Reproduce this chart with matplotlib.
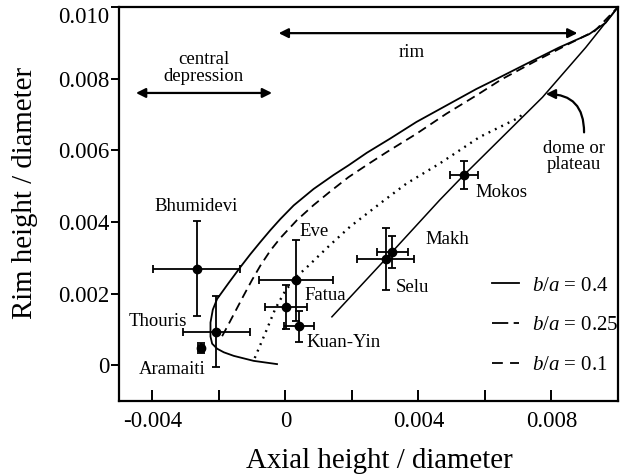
import matplotlib
matplotlib.use("Agg")
import matplotlib.pyplot as plt
from matplotlib.lines import Line2D
import numpy as np

plt.rcParams['font.family'] = ['Liberation Serif', 'DejaVu Serif']
plt.rcParams['mathtext.fontset'] = 'custom'
plt.rcParams['mathtext.it'] = 'Liberation Serif:italic'
plt.rcParams['mathtext.rm'] = 'Liberation Serif'

S = 1e-3
# ---- observed craters ----
names = ['Bhumidevi', 'Thouris', 'Aramaiti', 'Fatua', 'Eve', 'Kuan-Yin', 'Selu', 'Makh', 'Mokos']
axial = [-2.66, -2.07, -2.54, 0.02, 0.32, 0.40, 3.02, 3.22, 5.37]
rim = [2.69, 0.94, 0.47, 1.62, 2.37, 1.08, 2.97, 3.16, 5.31]
axial_err = [1.31, 1.00, 0.10, 0.64, 1.10, 0.45, 0.86, 0.47, 0.42]
rim_err = [1.33, 1.00, 0.14, 0.61, 1.13, 0.42, 0.86, 0.45, 0.39]
label_x = [-2.69, -3.84, -3.39, 1.19, 0.85, 1.75, 3.82, 4.86, 6.51]
label_y = [4.42, 1.23, -0.11, 1.94, 3.73, 0.63, 2.16, 3.52, 4.81]

# ---- model curves ----
c04_x = [-0.25, -0.95, -1.55, -1.85, -2.05, -2.20, -2.25, -2.25, -2.18, -2.05, -1.70, -1.35,
         -1.05, -0.75, -0.45, -0.15, 0.25, 0.85, 1.45, 1.90, 2.45, 3.14, 3.94, 4.84, 5.74,
         6.24, 7.24, 8.23, 9.13, 9.63, 10.0]
c04_y = [0.03, 0.12, 0.26, 0.36, 0.46, 0.60, 0.80, 1.19, 1.55, 1.85, 2.30, 2.74,
         3.10, 3.44, 3.77, 4.08, 4.46, 4.92, 5.31, 5.58, 5.93, 6.32, 6.79, 7.25, 7.71,
         7.94, 8.41, 8.87, 9.24, 9.56, 10.0]
c025_x = [-1.90, -1.72, -1.55, -1.25, -1.00, -0.75, -0.45, -0.15, 0.35, 0.85, 1.35, 1.90,
          2.50, 3.05, 3.94, 4.84, 5.74, 6.50, 7.50, 8.50, 9.30, 10.0]
c025_y = [0.81, 1.12, 1.42, 1.95, 2.38, 2.78, 3.20, 3.55, 4.05, 4.47, 4.85, 5.25,
          5.62, 5.95, 6.46, 7.02, 7.53, 7.98, 8.48, 8.96, 9.33, 10.0]
c01_x = [-0.92, -0.60, -0.30, 0.00, 0.35, 0.70, 1.00, 1.35, 1.95, 2.94, 3.64, 4.64, 5.84, 7.04, 7.13]
c01_y = [0.20, 0.90, 1.58, 2.08, 2.48, 2.78, 3.05, 3.36, 3.87, 4.58, 5.07, 5.63, 6.37, 6.92, 7.02]
dome_x = [1.40, 3.02, 4.64, 5.37, 7.73, 9.03, 10.0]
dome_y = [1.35, 2.97, 4.61, 5.31, 7.48, 8.87, 10.0]

xticks = [-0.004, 0, 0.004, 0.008]
xtick_labels = ['-0.004', '0', '0.004', '0.008']
yticks = [0, 0.002, 0.004, 0.006, 0.008, 0.010]
ytick_labels = ['0', '0.002', '0.004', '0.006', '0.008', '0.010']

sc = lambda a: np.array(a) * S

fig = plt.figure(figsize=(6.21, 4.75), dpi=100)
ax = fig.add_axes([119 / 621, 1 - 401 / 475, (618 - 119) / 621, (401 - 7) / 475])

ax.plot(sc(c04_x), sc(c04_y), color='black', lw=1.3, solid_joinstyle='round')
ax.plot(sc(c025_x), sc(c025_y), color='black', lw=1.3, dashes=(5, 3))
ax.plot(sc(c01_x), sc(c01_y), color='black', lw=1.7, dashes=(0.8, 2.2))
ax.plot(sc(dome_x), sc(dome_y), color='black', lw=1.1)

ax.errorbar(sc(axial), sc(rim), xerr=sc(axial_err), yerr=sc(rim_err), fmt='o', color='black',
            ms=6, elinewidth=1.3, capsize=3, capthick=1.3)

for n, lx, ly in zip(names, label_x, label_y):
    ax.text(lx * S, ly * S, n, ha='center', va='center', fontsize=13.5)

# annotations
ax.annotate('', xy=(-0.40e-3, 7.60e-3), xytext=(-4.49e-3, 7.60e-3),
            arrowprops=dict(arrowstyle='<|-|>', color='black', lw=1.6, mutation_scale=14,
                            shrinkA=0, shrinkB=0))
ax.text(-2.45e-3, 8.31e-3, 'central\ndepression', ha='center', va='center', fontsize=13.5,
        linespacing=1.0)
ax.annotate('', xy=(8.78e-3, 9.27e-3), xytext=(-0.20e-3, 9.27e-3),
            arrowprops=dict(arrowstyle='<|-|>', color='black', lw=1.6, mutation_scale=14,
                            shrinkA=0, shrinkB=0))
ax.text(3.79e-3, 8.73e-3, 'rim', ha='center', va='center', fontsize=13.5)
ax.text(8.68e-3, 5.82e-3, 'dome or\nplateau', ha='center', va='center', fontsize=13.5,
        linespacing=0.95)
ax.annotate('', xy=(7.83e-3, 7.57e-3), xytext=(8.98e-3, 6.50e-3),
            arrowprops=dict(arrowstyle='-|>', color='black', lw=1.6, mutation_scale=14,
                            shrinkA=0, shrinkB=0, connectionstyle='arc3,rad=0.5'))

# legend
handles = [Line2D([], [], color='black', lw=1.3),
           Line2D([], [], color='black', lw=1.3, dashes=(9, 3, 4, 3)),
           Line2D([], [], color='black', lw=1.3, dashes=(6, 4))]
labels = ['$b/a$ = 0.4', '$b/a$ = 0.25', '$b/a$ = 0.1']
ax.legend(handles, labels, loc='upper left', bbox_to_anchor=(0.747, 0.317), frameon=False,
          fontsize=15, handlelength=1.3, handletextpad=0.65, labelspacing=0.97,
          borderpad=0, borderaxespad=0)

ax.set_xlim(-0.005, 0.010)
ax.set_ylim(-0.001, 0.010)
ax.set_xticks(xticks)
ax.set_xticklabels(xtick_labels)
ax.set_xticks([-0.002, 0.002, 0.006], minor=True)
ax.set_yticks(yticks)
ax.set_yticklabels(ytick_labels)
ax.tick_params(axis='x', which='both', direction='in', length=8, width=1.4, labelsize=16.5, pad=7)
ax.tick_params(axis='y', direction='out', length=6, width=1.4, labelsize=16.5, pad=1)
ax.get_yticklabels()[-1].set_va('top')
for sp in ax.spines.values():
    sp.set_linewidth(1.6)

ax.set_xlabel('Axial height / diameter', fontsize=20.8)
ax.set_ylabel('Rim height / diameter', fontsize=20.8)
ax.xaxis.set_label_coords((379 - 119) / 499, (401 - 448) / 394)
ax.yaxis.set_label_coords((38 - 119) / 499, (401 - 193) / 394)

fig.savefig('out.png', dpi=100)
